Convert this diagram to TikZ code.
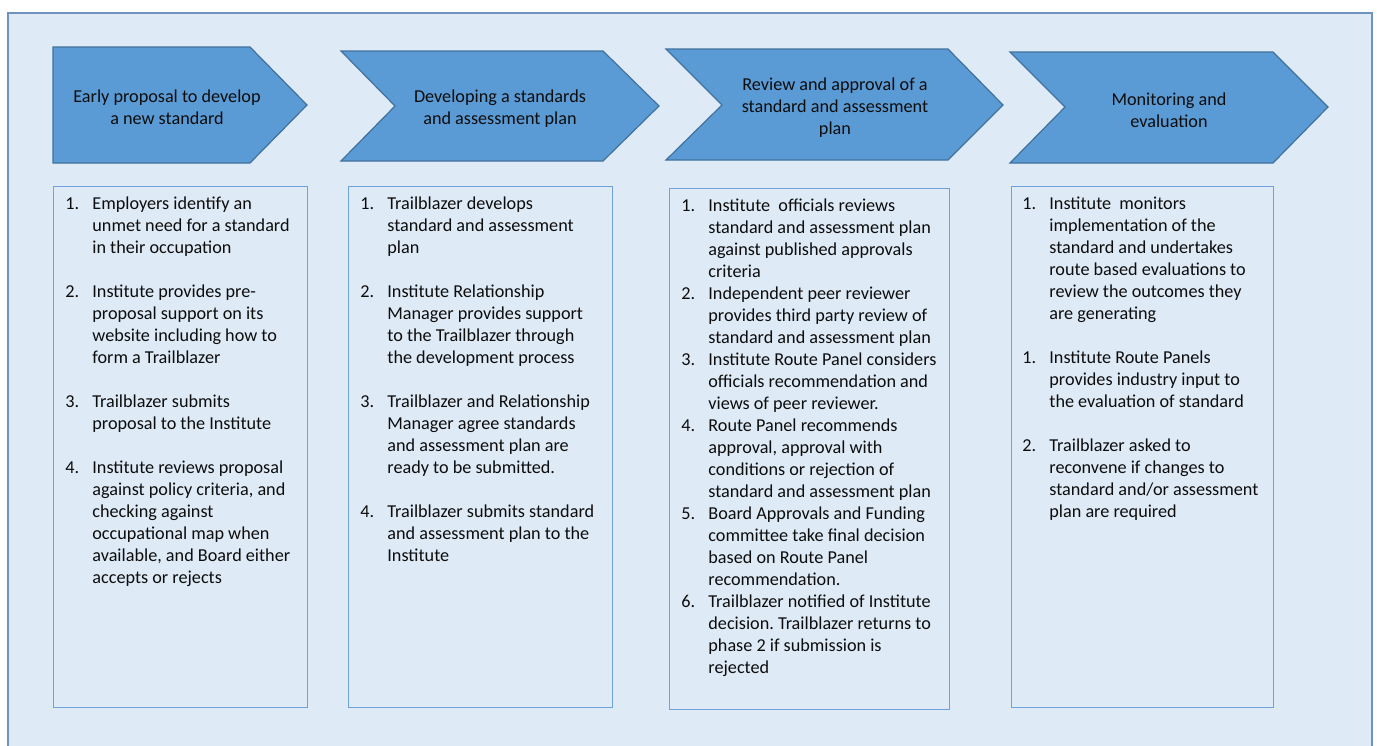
\documentclass[tikz,border=0pt]{standalone}
\usepackage{fontspec}
\setmainfont{Carlito}
\usetikzlibrary{positioning}
\definecolor{phasefill}{RGB}{91,155,213}
\definecolor{phaseline}{RGB}{65,113,156}
\definecolor{panelfill}{RGB}{222,234,246}
\definecolor{panelline}{RGB}{112,146,190}
\definecolor{listline}{RGB}{110,162,220}
\def\boxfont{\fontsize{9.1pt}{11pt}\selectfont\frenchspacing}
\newcommand{\steplist}[1]{\begin{tabular}[t]{@{}p{13.5pt}@{}l@{}}#1\end{tabular}}

\begin{document}
\begin{tikzpicture}[x=0.5pt, y=-0.5pt,
  phase/.style={fill=phasefill, draw=phaseline, line width=0.6pt},
  phasetext/.style={font=\boxfont, align=center, text=black!95},
  stepbox/.style={draw=listline, line width=0.7pt, anchor=north west, inner sep=0pt},
  steptext/.style={font=\boxfont, inner sep=0pt, text=black!95}]
\useasboundingbox (0,0) rectangle (1377,745);
\clip (0,0) rectangle (1377,745);
\draw[panelline, fill=panelfill, line width=1pt] (8,13) rectangle (1372,760);

\draw[phase] (53,47) -- (250,47) -- (307,105) -- (250,163) -- (53,163) -- cycle;
\draw[phase] (341,51) -- (603,51) -- (659,106) -- (603,161) -- (341,161) -- (395,106) -- cycle;
\draw[phase] (666,49) -- (948,49) -- (1003,105) -- (948,160) -- (666,160) -- (722,105) -- cycle;
\draw[phase] (1010,52) -- (1273,52) -- (1328,107) -- (1273,163) -- (1010,163) -- (1065,107) -- cycle;

\node[phasetext] (phase1) at (167,107) {Early proposal to develop\\a new standard};
\node[phasetext] (phase2) at (500,109) {Developing a standards\\and assessment plan};
\node[phasetext] (phase3) at (835,108) {Review and approval of a\\standard and assessment\\plan};
\node[phasetext] (phase4) at (1169,110) {Monitoring and\\evaluation};

\node[stepbox, minimum width=127pt, minimum height=260.5pt] (list1) at (53,186) {};
\node[stepbox, minimum width=132pt, minimum height=260.5pt] (list2) at (348,186) {};
\node[stepbox, minimum width=140pt, minimum height=260.5pt] (list3) at (669,188) {};
\node[stepbox, minimum width=131pt, minimum height=260.5pt] (list4) at (1011,186) {};

\node[steptext, below right=3.8pt and 6pt of list1.north west] (items1) {\steplist{%
1. & Employers identify an\\ & unmet need for a standard\\ & in their occupation\\ & \\
2. & Institute provides pre-\\ & proposal support on its\\ & website including how to\\ & form a Trailblazer\\ & \\
3. & Trailblazer submits\\ & proposal to the Institute\\ & \\
4. & Institute reviews proposal\\ & against policy criteria, and\\ & checking against\\ & occupational map when\\ & available, and Board either\\ & accepts or rejects}};

\node[steptext, below right=3.8pt and 6pt of list2.north west] (items2) {\steplist{%
1. & Trailblazer develops\\ & standard and assessment\\ & plan\\ & \\
2. & Institute Relationship\\ & Manager provides support\\ & to the Trailblazer through\\ & the development process\\ & \\
3. & Trailblazer and Relationship\\ & Manager agree standards\\ & and assessment plan are\\ & ready to be submitted.\\ & \\
4. & Trailblazer submits standard\\ & and assessment plan to the\\ & Institute}};

\node[steptext, below right=3.8pt and 6pt of list3.north west] (items3) {\steplist{%
1. & Institute~ officials reviews\\ & standard and assessment plan\\ & against published approvals\\ & criteria\\
2. & Independent peer reviewer\\ & provides third party review of\\ & standard and assessment plan\\
3. & Institute Route Panel considers\\ & officials recommendation and\\ & views of peer reviewer.\\
4. & Route Panel recommends\\ & approval, approval with\\ & conditions or rejection of\\ & standard and assessment plan\\
5. & Board Approvals and Funding\\ & committee take final decision\\ & based on Route Panel\\ & recommendation.\\
6. & Trailblazer notified of Institute\\ & decision. Trailblazer returns to\\ & phase 2 if submission is\\ & rejected}};

\node[steptext, below right=3.8pt and 5.5pt of list4.north west] (items4) {\steplist{%
1. & Institute~ monitors\\ & implementation of the\\ & standard and undertakes\\ & route based evaluations to\\ & review the outcomes they\\ & are generating\\ & \\
1. & Institute Route Panels\\ & provides industry input to\\ & the evaluation of standard\\ & \\
2. & Trailblazer asked to\\ & reconvene if changes to\\ & standard and/or assessment\\ & plan are required}};
\end{tikzpicture}
\end{document}
